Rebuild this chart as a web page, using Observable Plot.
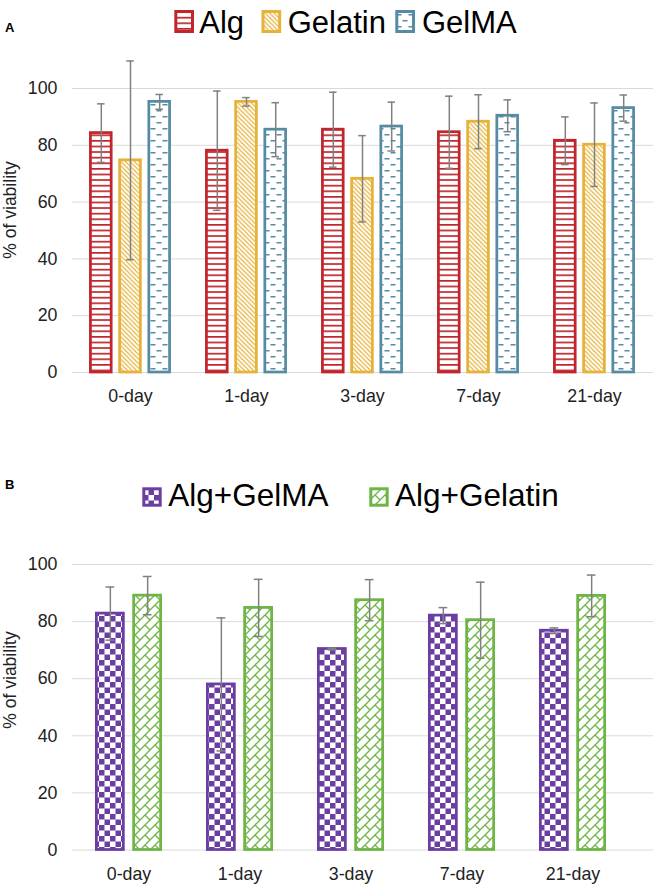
<!DOCTYPE html>
<html><head><meta charset="utf-8">
<script src="https://cdn.jsdelivr.net/npm/d3@7"></script>
<script src="https://cdn.jsdelivr.net/npm/@observablehq/plot@0.6"></script>
<style>
body{margin:0;background:#fff;font-family:"Liberation Sans",Arial,sans-serif;}
#root{position:relative;width:654px;height:884px;overflow:hidden;background:#fff;}
#root svg{position:absolute;left:0;}
</style></head><body>
<div id="root"></div>
<script>
// ---------- data ----------
const days = ["0-day", "1-day", "3-day", "7-day", "21-day"];
const seriesA = ["Alg", "Gelatin", "GelMA"];
const algMean = [84.3, 78.1, 85.5, 84.6, 81.6];
const algErr = [10.3, 21.0, 13.2, 12.7, 8.4];
const gelatinMean = [74.7, 95.3, 68.2, 88.3, 80.2];
const gelatinErr = [35.0, 1.5, 15.2, 9.5, 14.7];
const gelmaMean = [95.3, 85.5, 86.6, 90.4, 93.1];
const gelmaErr = [2.6, 9.5, 8.6, 5.6, 4.6];
const seriesB = ["Alg+GelMA", "Alg+Gelatin"];
const algGelmaMean = [82.8, 58.0, 70.4, 82.1, 76.8];
const algGelmaErr = [9.3, 23.3, 0.3, 2.8, 1.0];
const algGelatinMean = [89.1, 84.8, 87.5, 80.5, 89.0];
const algGelatinErr = [6.7, 10.0, 7.2, 13.3, 7.3];
const yTicks = [0, 20, 40, 60, 80, 100];
const yTitle = "% of viability";

// ---------- styles ----------
const C = {alg: "#c0272d", gelatin: "#e6b23a", gelma: "#568ca3", purple: "#6a3fa1", green: "#6db545", err: "#808080", grid: "#d9d9d9", text: "#222222"};
const FONT = "'Liberation Sans', Arial, sans-serif";
const SW = 2.75;

const root = document.getElementById("root");

const NS = "http://www.w3.org/2000/svg";
const defsSvg = `
<svg xmlns="${NS}" width="654" height="884" style="top:0;z-index:5;pointer-events:none;background:none" font-family="${FONT}">
<defs>
 <pattern id="pAlg" patternUnits="userSpaceOnUse" width="6" height="5.6">
  <rect width="6" height="5.6" fill="#fff"/>
  <rect y="0" width="6" height="1.7" fill="${C.alg}"/>
 </pattern>
 <pattern id="pGelatin" patternUnits="userSpaceOnUse" width="4.5" height="4.5">
  <rect width="4.5" height="4.5" fill="#fff"/>
  <path d="M-1,-1 L5.5,5.5 M-1,3.5 L1,5.5 M3.5,-1 L5.5,1" stroke="${C.gelatin}" stroke-width="1.2"/>
 </pattern>
 <pattern id="pGelMA" patternUnits="userSpaceOnUse" width="12" height="12">
  <rect width="12" height="12" fill="#fff"/>
  <rect x="0.5" y="2" width="5" height="1.5" fill="${C.gelma}"/>
  <rect x="6.5" y="8" width="5" height="1.5" fill="${C.gelma}"/>
 </pattern>
 <pattern id="pCheck" patternUnits="userSpaceOnUse" width="11" height="11">
  <rect width="11" height="11" fill="#fff"/>
  <rect width="5.5" height="5.5" fill="${C.purple}"/>
  <rect x="5.5" y="5.5" width="5.5" height="5.5" fill="${C.purple}"/>
 </pattern>
 <pattern id="pShingle" patternUnits="userSpaceOnUse" width="10" height="10">
  <rect width="10" height="10" fill="#fff"/>
  <path d="M-1,11 L11,-1 M-1,1 L1,-1 M9,11 L11,9 M5,5 L10,10" stroke="${C.green}" stroke-width="1.3" fill="none"/>
 </pattern>
</defs>
<text x="5" y="32" font-size="13" font-weight="bold" fill="#000">A</text>
<text x="5" y="489" font-size="13" font-weight="bold" fill="#000">B</text>
<text transform="translate(15.5,210) rotate(-90)" text-anchor="middle" font-size="17.5" fill="${C.text}">${yTitle}</text>
<text transform="translate(15.5,680) rotate(-90)" text-anchor="middle" font-size="17.5" fill="${C.text}">${yTitle}</text>
<g font-size="31" fill="#000">
 <rect x="175.8" y="11.5" width="16.7" height="20" fill="url(#pAlg)" stroke="${C.alg}" stroke-width="3"/>
 <text x="199.3" y="33">${seriesA[0]}</text>
 <rect x="263" y="11.5" width="16.7" height="20" fill="url(#pGelatin)" stroke="${C.gelatin}" stroke-width="3"/>
 <text x="287.7" y="33">${seriesA[1]}</text>
 <rect x="396.8" y="11.5" width="16.7" height="20" fill="url(#pGelMA)" stroke="${C.gelma}" stroke-width="3"/>
 <text x="422" y="33">${seriesA[2]}</text>
</g>
<g font-size="31.5" fill="#000">
 <rect x="143.8" y="488.8" width="16.4" height="16.4" fill="url(#pCheck)" stroke="${C.purple}" stroke-width="3"/>
 <text x="168.3" y="506">${seriesB[0]}</text>
 <rect x="370.8" y="488.8" width="16.4" height="16.4" fill="url(#pShingle)" stroke="${C.green}" stroke-width="3"/>
 <text x="395" y="506">${seriesB[1]}</text>
</g>
</svg>`;

function chart({top, series, means, errs, colors, patterns, xRange, barW, gap, capW, height, marginTop, marginBottom}) {
  const bw = (xRange[1] - xRange[0]) / days.length;
  const n = series.length;
  const total = n * barW + (n - 1) * gap;
  const marks = [Plot.ruleY(yTicks, {stroke: C.grid, strokeWidth: 1})];
  const perSeries = series.map((s, k) => days.map((d, i) => ({day: d, series: s, v: means[k][i], e: errs[k][i]})));
  series.forEach((s, k) => {
    const left = bw / 2 - total / 2 + k * (barW + gap);
    marks.push(Plot.barY(perSeries[k], {
      x: "day", y1: 0, y2: "v",
      fill: `url(#${patterns[k]})`, stroke: colors[k], strokeWidth: SW,
      insetLeft: left + SW / 2, insetRight: bw - left - barW + SW / 2
    }));
  });
  series.forEach((s, k) => {
    const center = bw / 2 - total / 2 + k * (barW + gap) + barW / 2;
    const ebStyle = {stroke: C.err, strokeWidth: 1.5};
    marks.push(Plot.ruleX(perSeries[k], {x: "day", y1: d => d.v - d.e, y2: d => d.v + d.e, dx: center - bw / 2, ...ebStyle}));
    for (const sign of [1, -1]) {
      marks.push(Plot.tickY(perSeries[k], {x: "day", y: d => d.v + sign * d.e,
        insetLeft: center - capW / 2, insetRight: bw - center - capW / 2, ...ebStyle}));
    }
  });
  const svg = Plot.plot({
    width: 654, height, marginTop, marginBottom, marginLeft: 72, marginRight: 1,
    x: {type: "band", domain: days, range: xRange, padding: 0, tickSize: 0, tickPadding: 17, label: null},
    y: {domain: [0, 100], ticks: yTicks, tickSize: 0, tickPadding: 15, label: null},
    style: {fontFamily: FONT, fontSize: "17.8px", color: C.text, background: "transparent", overflow: "visible"},
    marks
  });
  svg.style.top = top + "px";
  root.appendChild(svg);
}

chart({
  top: 0, height: 412, marginTop: 88, marginBottom: 40,
  series: seriesA, means: [algMean, gelatinMean, gelmaMean], errs: [algErr, gelatinErr, gelmaErr],
  colors: [C.alg, C.gelatin, C.gelma], patterns: ["pAlg", "pGelatin", "pGelMA"],
  xRange: [72, 652], barW: 23.5, gap: 5.7, capW: 7.5
});
chart({
  top: 440, height: 444, marginTop: 124, marginBottom: 34.5,
  series: seriesB, means: [algGelmaMean, algGelatinMean], errs: [algGelmaErr, algGelatinErr],
  colors: [C.purple, C.green], patterns: ["pCheck", "pShingle"],
  xRange: [72.7, 629], barW: 30, gap: 7.3, capW: 9
});
root.insertAdjacentHTML("beforeend", defsSvg);
</script>
</body></html>
